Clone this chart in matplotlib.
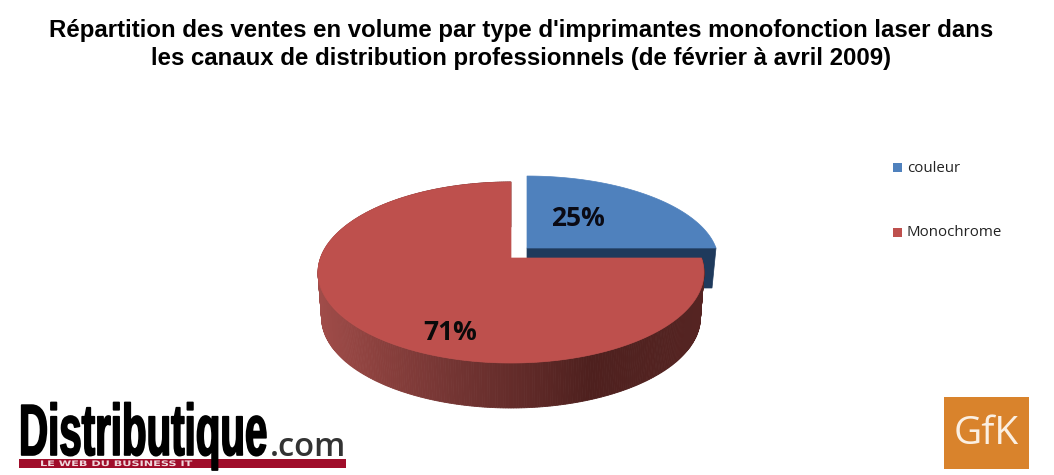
import numpy as np
import matplotlib
matplotlib.use("Agg")
import matplotlib.pyplot as plt
from matplotlib.colors import to_rgb
from matplotlib.patches import Polygon, Rectangle
from matplotlib.patheffects import AbstractPathEffect
from matplotlib.transforms import Affine2D

TITLE_LINES = ["Répartition des ventes en volume par type d'imprimantes monofonction laser dans",
               "les canaux de distribution professionnels (de février à avril 2009)"]
CATEGORIES = ["couleur", "Monochrome"]
LABELS = ["25%", "71%"]
SHARES = [25, 75]  # drawn angle: the picture shows a full quarter for couleur

RED = "#BE504D"
BLUE = "#4F81BD"
BLUE_DARK = "#1F3A5C"

# wall shading along the rim, left to right
WALL_X = [318, 380, 450, 520, 590, 640, 700]
WALL_COLORS = ["#A04C49", "#8A403D", "#743533", "#622B29", "#4E201E", "#512220", "#552422"]


class Reshape(AbstractPathEffect):
    # keeps a Text object but scales its glyphs around a pixel anchor
    def __init__(self, x0, y0, sx=1.0, sy=1.0, dy=0.0, lw=0.0):
        self.x0, self.y0, self.sx, self.sy, self.dy, self.lw = x0, y0, sx, sy, dy, lw

    def draw_path(self, renderer, gc, tpath, affine, rgbFace=None):
        tr = affine + Affine2D().translate(-self.x0, -self.y0).scale(self.sx, self.sy).translate(self.x0, self.y0 + self.dy)
        gc0 = renderer.new_gc()
        gc0.copy_properties(gc)
        if self.lw:
            gc0.set_linewidth(self.lw)
            gc0.set_foreground(rgbFace)
        renderer.draw_path(gc0, tpath, tr, rgbFace)
        gc0.restore()


def project(theta, cx, cy, a=190.5, b=88.2, k=-0.16):
    # flat disc seen in perspective, theta in degrees, 0 = right, 90 = back
    x = np.cos(np.radians(theta))
    y = -np.sin(np.radians(theta))
    d = 1 + k * y
    return cx + a * x / d, cy + b * y / d


fig = plt.figure(figsize=(10.54, 4.75), dpi=100)
ax = fig.add_axes([0, 0, 1, 1])
ax.set_xlim(0, 1054)
ax.set_ylim(475, 0)
ax.axis("off")

blue_sweep = 360 * SHARES[0] / sum(SHARES)
red_sweep = 360 * SHARES[1] / sum(SHARES)

# blue slice: wall first, then top
t_blue = np.linspace(90, 90 - blue_sweep, 80)
bx, by = project(t_blue, 527, 248, a=189, b=83.5)
wx, wy = project(t_blue, 527, 288, a=185, b=83.5)
ax.add_patch(Polygon(np.r_[np.c_[[527], [288]], np.c_[wx[-1:], wy[-1:]], np.c_[bx[-1:], by[-1:]], np.c_[[527], [248]]],
                     fc=BLUE_DARK, ec=BLUE_DARK, lw=0.5))
ax.add_patch(Polygon(np.r_[np.c_[[527], [248]], np.c_[bx, by]], fc=BLUE, ec=BLUE, lw=0.5))

# red slice wall, as thin strips with shading
t_red = np.linspace(0, -red_sweep, 400)
rx, ry = project(t_red, 511, 258)
lx, ly = project(t_red, 511, 303, a=187, b=88.2)
wall_rgb = np.array([to_rgb(c) for c in WALL_COLORS])
for i in range(len(t_red) - 1):
    mx = (rx[i] + rx[i + 1]) / 2
    rgb = [np.interp(mx, WALL_X, wall_rgb[:, j]) for j in range(3)]
    ax.add_patch(Polygon([(rx[i], ry[i]), (rx[i + 1], ry[i + 1]), (lx[i + 1], ly[i + 1]), (lx[i], ly[i])],
                         fc=rgb, ec=rgb, lw=0.6))

# red top face
ax.add_patch(Polygon(np.r_[np.c_[[511], [258]], np.c_[rx, ry]], fc=RED, ec=RED, lw=0.5))

for yy, line in zip([30, 58], TITLE_LINES):
    ax.text(521, yy, line, family="Liberation Sans", weight="bold", fontsize=17.25,
            ha="center", va="center", color="black")

ax.text(578, 219, LABELS[0], family="Open Sans", weight="bold", fontsize=19, ha="center", va="center", color="#0A0A14")
ax.text(450, 333, LABELS[1], family="Open Sans", weight="bold", fontsize=19, ha="center", va="center", color="#0A0A0A")

# legend
for yy, name, col in zip([167, 232], CATEGORIES, [BLUE, RED]):
    ax.add_patch(Rectangle((893, yy - 4), 9, 9, fc=col, ec="none"))
    ax.text(907, yy + 1, name, family="Open Sans", fontsize=10.8, ha="left", va="center", color="#222222")

# Distributique logo
ax.add_patch(Rectangle((19, 459), 327, 9, fc="#A00D2A", ec="none"))
ax.text(19, 447, "Distributique", family="Liberation Sans", weight="bold", fontsize=29,
        ha="left", va="baseline", color="black",
        path_effects=[Reshape(19, 475 - 447, sy=1.8, dy=-8, lw=1.2)])
ax.text(270, 456, ".com", family="Open Sans", weight="semibold", fontsize=23.5, ha="left", va="baseline", color="#333333")
ax.text(40, 464, "LE WEB DU BUSINESS IT", family="DejaVu Sans", weight="bold", fontsize=8.1,
        ha="left", va="center", color="#F0D8DC",
        path_effects=[Reshape(40, 475 - 464, sy=0.68)])

# GfK logo
ax.add_patch(Rectangle((944, 397), 85, 72, fc="#D9832C", ec="none"))
ax.text(986.5, 434, "GfK", family="Open Sans", fontsize=28, ha="center", va="center", color="#FBEFE2")

fig.savefig("out.png", dpi=100)
